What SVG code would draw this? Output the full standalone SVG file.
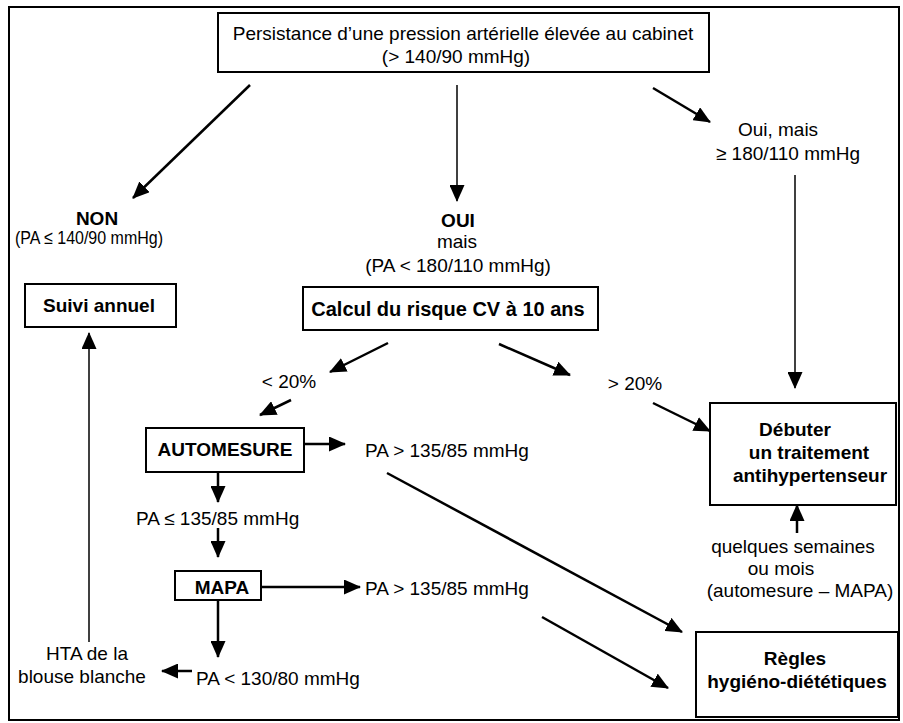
<svg xmlns="http://www.w3.org/2000/svg" width="903" height="723" viewBox="0 0 903 723">
<defs>
<marker id="ah" markerUnits="userSpaceOnUse" markerWidth="17" markerHeight="15" refX="16" refY="7.5" orient="auto">
<path d="M0,0 L17,7.5 L0,15 Z" fill="#000"/>
</marker>
<style>
.t{font-family:"Liberation Sans",Arial,sans-serif;font-size:19px;fill:#000;text-anchor:middle}
.b{font-weight:bold}
.s{text-anchor:start}
.box{fill:#fff;stroke:#000;stroke-width:2}
.c{fill:none;stroke:#000;stroke-width:2.5;marker-end:url(#ah)}
.th{fill:none;stroke:#000;stroke-width:1.5;marker-end:url(#ah)}
</style>
</defs>
<rect x="0" y="0" width="903" height="723" fill="#fff"/>
<rect x="9" y="7" width="890" height="713" fill="none" stroke="#000" stroke-width="2"/>

<g id="connectors">
<line class="c" x1="250" y1="85" x2="133" y2="198"/>
<line class="th" x1="457" y1="85" x2="457" y2="201"/>
<line class="c" x1="653" y1="88" x2="710" y2="122"/>
<line class="th" x1="795" y1="175" x2="795" y2="388"/>
<line class="c" x1="388" y1="343" x2="330" y2="372"/>
<line class="c" x1="499" y1="344" x2="570" y2="375"/>
<line class="c" x1="291" y1="400" x2="260" y2="415"/>
<line class="c" x1="653" y1="403" x2="710" y2="431"/>
<line class="c" x1="304" y1="444" x2="345" y2="444"/>
<line class="c" x1="218" y1="472" x2="218" y2="502"/>
<line class="c" x1="218" y1="528" x2="218" y2="557"/>
<line class="c" x1="261" y1="587" x2="360" y2="587"/>
<line class="c" x1="218" y1="600" x2="218" y2="657"/>
<line class="c" x1="192" y1="671" x2="162" y2="671"/>
<line class="th" x1="89" y1="642" x2="89" y2="333"/>
<line class="c" x1="387" y1="473" x2="682" y2="632"/>
<line class="c" x1="542" y1="617" x2="668" y2="688"/>
<line class="c" x1="797" y1="533" x2="797" y2="505"/>
</g>

<g id="n-top">
<rect class="box" x="218" y="13" width="491" height="59"/>
<text class="t" x="463" y="40">Persistance d’une pression artérielle élevée au cabinet</text>
<text class="t" x="456" y="63">(&gt; 140/90 mmHg)</text>
</g>
<g id="n-non">
<text class="t b" x="97" y="225">NON</text>
<text class="t s" x="15" y="244" textLength="148" lengthAdjust="spacingAndGlyphs">(PA ≤ 140/90 mmHg)</text>
</g>
<g id="n-oui">
<text class="t b" x="458" y="227">OUI</text>
<text class="t" x="457" y="248">mais</text>
<text class="t" x="458" y="272">(PA &lt; 180/110 mmHg)</text>
</g>
<g id="n-ouimais">
<text class="t" x="778" y="136">Oui, mais</text>
<text class="t" x="788" y="160">≥ 180/110 mmHg</text>
</g>
<g id="n-suivi">
<rect class="box" x="25" y="284" width="151" height="43"/>
<text class="t b" x="99" y="312">Suivi annuel</text>
</g>
<g id="n-calcul">
<rect class="box" x="303" y="287" width="295" height="43"/>
<text class="t b" x="448" y="316" style="font-size:20px">Calcul du risque CV à 10 ans</text>
</g>
<g id="n-lt20">
<text class="t" x="289" y="388">&lt; 20%</text>
</g>
<g id="n-gt20">
<text class="t" x="635" y="390">&gt; 20%</text>
</g>
<g id="n-auto">
<rect class="box" x="146" y="428" width="158" height="44"/>
<text class="t b" x="225" y="456">AUTOMESURE</text>
</g>
<g id="n-autohigh">
<text class="t s" x="365" y="457">PA &gt; 135/85 mmHg</text>
</g>
<g id="n-autolow">
<text class="t s" x="136" y="525">PA ≤ 135/85 mmHg</text>
</g>
<g id="n-mapa">
<rect class="box" x="175" y="571" width="86" height="29"/>
<text class="t b" x="222" y="594">MAPA</text>
</g>
<g id="n-mapahigh">
<text class="t s" x="365" y="595">PA &gt; 135/85 mmHg</text>
</g>
<g id="n-mapalow">
<text class="t s" x="196" y="685">PA &lt; 130/80 mmHg</text>
</g>
<g id="n-hta">
<text class="t" x="87" y="660">HTA de la</text>
<text class="t" x="82" y="683">blouse blanche</text>
</g>
<g id="n-debuter">
<rect class="box" x="710" y="403" width="186" height="102"/>
<text class="t b" x="795" y="436">Débuter</text>
<text class="t b" x="809" y="459">un traitement</text>
<text class="t b" x="810" y="482">antihypertenseur</text>
</g>
<g id="n-quelques">
<text class="t" x="793" y="553">quelques semaines</text>
<text class="t" x="781" y="575">ou mois</text>
<text class="t" x="800" y="597">(automesure – MAPA)</text>
</g>
<g id="n-regles">
<rect class="box" x="696" y="632" width="202" height="85"/>
<text class="t b" x="795" y="665">Règles</text>
<text class="t b" x="797" y="688">hygiéno-diététiques</text>
</g>
</svg>
